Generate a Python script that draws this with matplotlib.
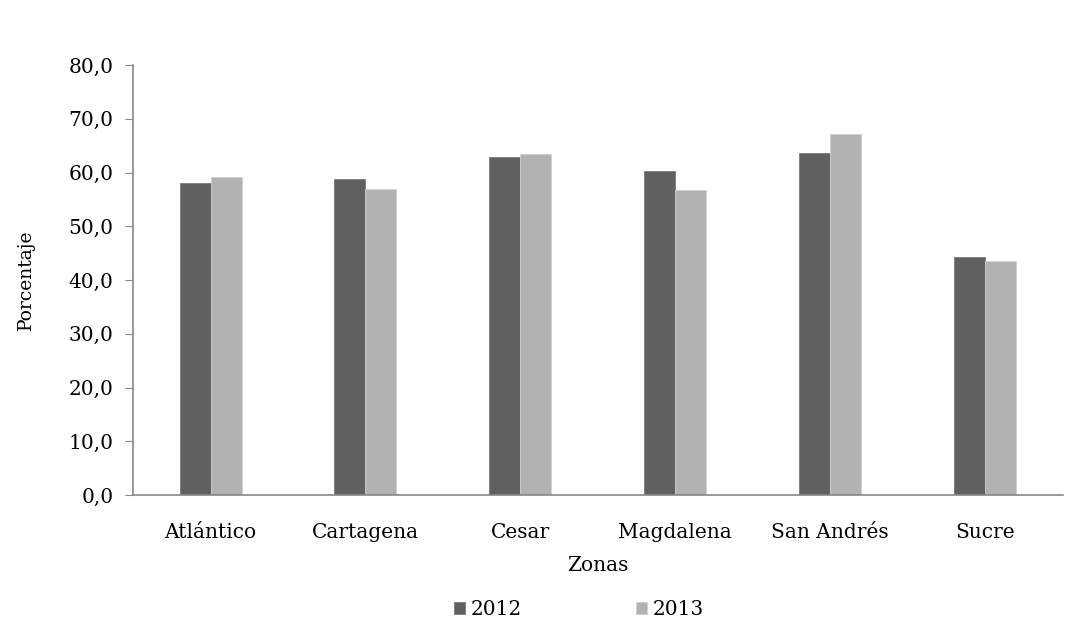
import matplotlib
matplotlib.use("Agg")
from matplotlib import pyplot as plt
import numpy as np

# data
zonas = ["Atlántico", "Cartagena", "Cesar", "Magdalena", "San Andrés", "Sucre"]
valores_2012 = [58.1, 58.8, 62.8, 60.3, 63.6, 44.3]
valores_2013 = [59.2, 57.0, 63.5, 56.7, 67.2, 43.5]
anios = ["2012", "2013"]
y_ticks = [0, 10, 20, 30, 40, 50, 60, 70, 80]

plt.rcParams["font.family"] = ["DejaVu Serif"]
fs = 14.5

fig = plt.figure(figsize=(10.82, 6.22), dpi=100)
ax = fig.add_axes([0.123, 0.204, 0.859, 0.6915])

x = np.arange(len(zonas))
w = 0.2
ax.bar(x - w / 2, valores_2012, width=w, color="#606060", edgecolor="#7a7a7a", linewidth=0.6, label=anios[0])
ax.bar(x + w / 2, valores_2013, width=w, color="#b2b2b2", edgecolor="#d0d0d0", linewidth=0.6, label=anios[1])

ax.set_xlim(-0.5, len(zonas) - 0.5)
ax.set_ylim(0, 80)
ax.set_yticks(y_ticks)
ax.set_yticklabels([f"{v:.1f}".replace(".", ",") for v in y_ticks])
ax.set_xticks(x)
ax.set_xticklabels(zonas)

for s in ["top", "right"]:
    ax.spines[s].set_visible(False)
for s in ["left", "bottom"]:
    ax.spines[s].set_color("#868686")
    ax.spines[s].set_linewidth(1.2)

ax.tick_params(axis="y", direction="out", length=6, color="#868686", labelsize=fs, pad=8)
ax.tick_params(axis="x", length=0, labelsize=fs, pad=20)

ax.set_xlabel("Zonas", fontsize=fs, labelpad=10)
ax.set_ylabel("Porcentaje", fontsize=fs - 1, labelpad=24)

fig.legend(loc="center", bbox_to_anchor=(0.535, 0.02), ncol=2, frameon=False,
           fontsize=fs, handlelength=0.55, handleheight=0.55, handletextpad=0.25,
           columnspacing=5.7, borderpad=0)

fig.savefig("out.png", dpi=100)
